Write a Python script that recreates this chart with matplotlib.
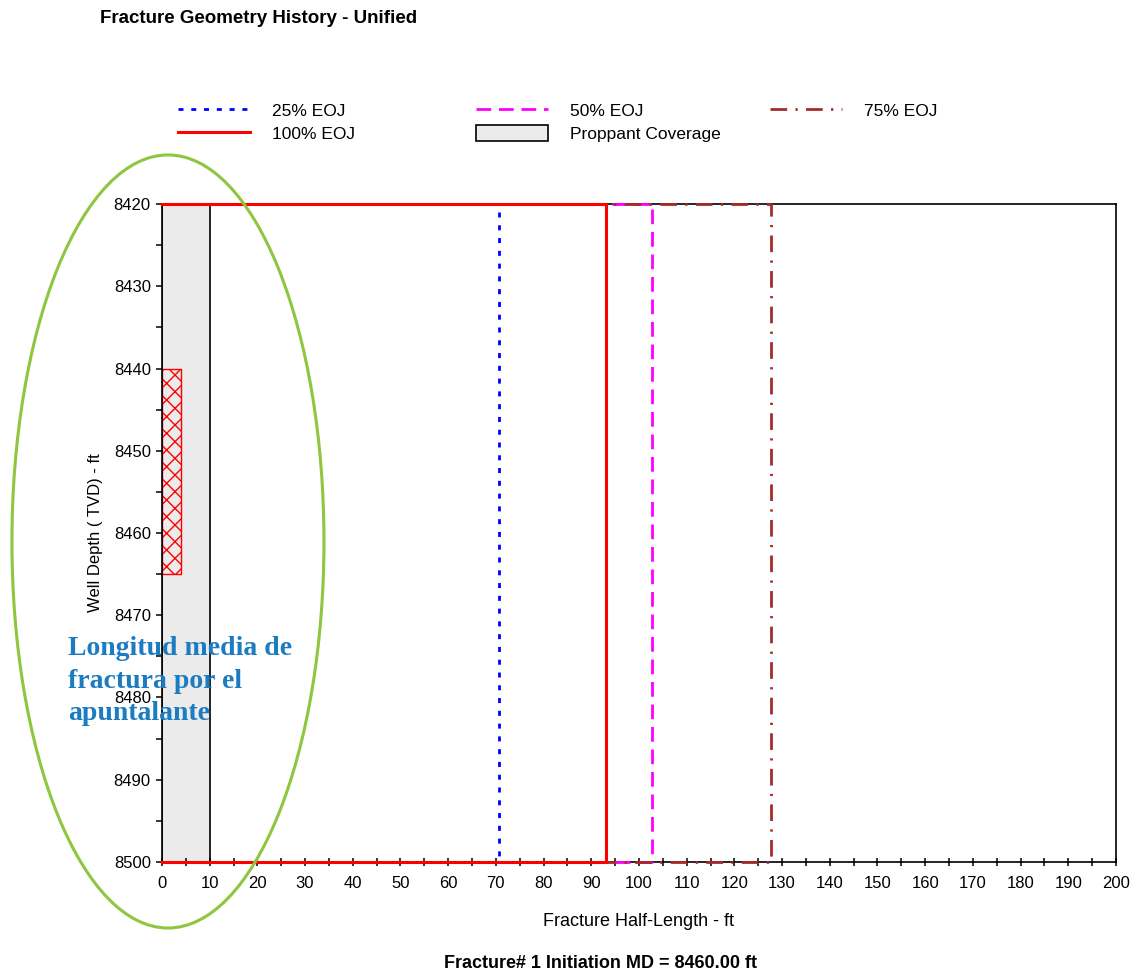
import numpy as np
import matplotlib.pyplot as plt
from matplotlib.lines import Line2D
from matplotlib.patches import Patch, Ellipse

plt.rcParams['font.family'] = ['Liberation Sans', 'DejaVu Sans']

# --- data ---
eoj_labels = ['25% EOJ', '50% EOJ', '75% EOJ', '100% EOJ']
eoj_half_length = [70.6, 102.7, 127.6, 93.1]      # ft
eoj_colors = ['#0000ff', '#ff00ff', '#a52a2a', '#ff0000']
eoj_styles = [(0, (1.8, 2.8)), (0, (5.3, 2.8)), (0, (6, 3, 0.8, 3)), '-']
eoj_widths = [2.0, 2.0, 2.0, 2.2]

frac_top = 8420       # ft TVD
frac_bottom = 8500
proppant_length = 10  # ft
perf_top = 8440
perf_bottom = 8465
perf_width = 4

fig = plt.figure(figsize=(11.31, 9.73), dpi=100)
ax = fig.add_axes([0.1432, 0.1141, 0.8435, 0.6762])

# proppant coverage
ax.fill_betweenx([frac_top, frac_bottom], 0, proppant_length,
                 facecolor='#ebebeb', edgecolor='black', linewidth=1.2, zorder=1)
# perforated interval
ax.fill_betweenx([perf_top, perf_bottom], 0, perf_width,
                 facecolor='none', edgecolor='red', hatch='xx', linewidth=1.0, zorder=2)

# fracture outlines at each stage (100% drawn last so it sits on top)
for i in [0, 1, 2, 3]:
    L = eoj_half_length[i]
    ax.plot([0, L, L, 0], [frac_top, frac_top, frac_bottom, frac_bottom],
            color=eoj_colors[i], linestyle=eoj_styles[i], linewidth=eoj_widths[i],
            clip_on=False, zorder=3 + i)

ax.set_xlim(0, 200)
ax.set_ylim(frac_bottom, frac_top)
ax.set_xticks(np.arange(0, 201, 10))
ax.set_xticks(np.arange(0, 201, 5), minor=True)
ax.set_yticks(np.arange(8420, 8501, 10))
ax.set_yticks(np.arange(8420, 8501, 5), minor=True)
ax.tick_params(axis='x', which='both', direction='inout', length=6, width=1.1, labelsize=12, pad=7)
ax.tick_params(axis='y', which='both', direction='out', length=4, width=1.1, labelsize=12, pad=4)
for s in ax.spines.values():
    s.set_linewidth(1.2)

ax.set_xlabel('Fracture Half-Length - ft', fontsize=13, labelpad=16)
ax.set_ylabel('Well Depth ( TVD) - ft', fontsize=12, labelpad=8)

fig.text(0.0885, 0.9805, 'Fracture Geometry History - Unified', fontsize=13.5,
         fontweight='bold', ha='left', va='center')
fig.text(0.531, 0.0093, 'Fracture# 1 Initiation MD = 8460.00 ft', fontsize=13,
         fontweight='bold', ha='center', va='center')

# legend, three columns placed separately
h = {lab: Line2D([], [], color=c, linestyle=ls, linewidth=lw)
     for lab, c, ls, lw in zip(eoj_labels, eoj_colors, eoj_styles, eoj_widths)}
prop_patch = Patch(facecolor='#ebebeb', edgecolor='black', linewidth=1.2)
cols = [([h['25% EOJ'], h['100% EOJ']], ['25% EOJ', '100% EOJ'], 178),
        ([h['50% EOJ'], prop_patch], ['50% EOJ', 'Proppant Coverage'], 476),
        ([h['75% EOJ']], ['75% EOJ'], 770)]
for handles, labels, xpx in cols:
    leg = fig.legend(handles, labels, loc='upper left', bbox_to_anchor=(xpx / 1131, 0.895),
                     frameon=False, fontsize=12.5, handlelength=4.15, handleheight=1.1,
                     handletextpad=1.27, labelspacing=0.3, borderpad=0, borderaxespad=0)

# annotation
fig.add_artist(Ellipse((0.1485, 0.4435), 0.2759, 0.7945, transform=fig.transFigure,
                       facecolor='none', edgecolor='#8dc63f', linewidth=2.2, zorder=5))
fig.text(0.060, 0.300, 'Longitud media de\nfractura por el\napuntalante',
         fontsize=20, fontweight='bold', color='#1b7cc2', ha='left', va='center',
         linespacing=1.4, family=['Liberation Serif', 'DejaVu Serif'], zorder=6)

fig.savefig('out.png', dpi=100)
